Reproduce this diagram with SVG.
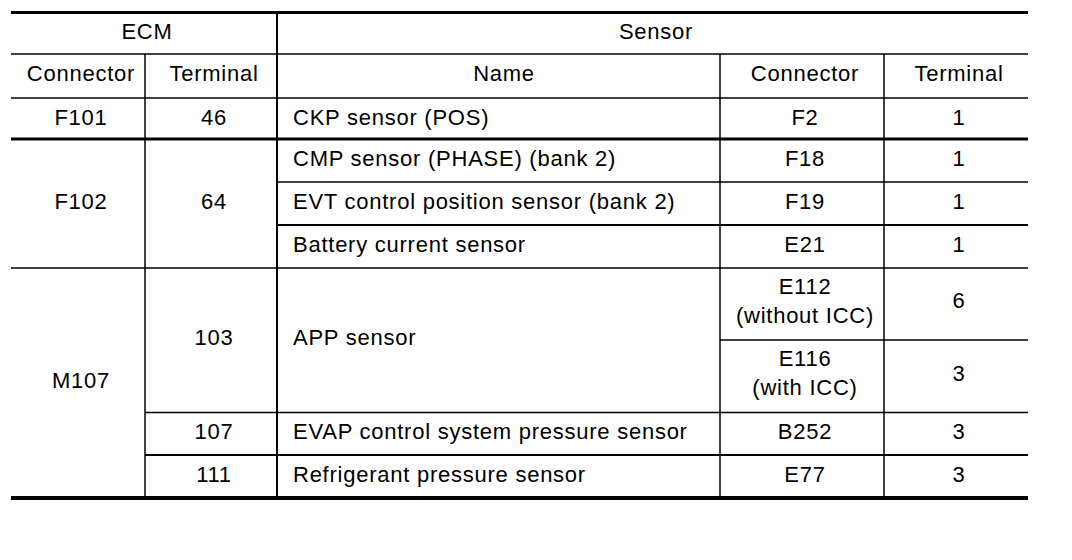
<svg xmlns="http://www.w3.org/2000/svg" width="1072" height="560" viewBox="0 0 1072 560">
<style>
text{font-family:"Liberation Sans",Arial,sans-serif;font-size:22px;fill:#000;letter-spacing:0.75px}
.c{text-anchor:middle}
line{stroke:#000}
.t1{stroke-width:1.5}
.t2{stroke-width:2}
.t3{stroke-width:3}
.t4{stroke-width:4}
</style>
<rect width="1072" height="560" fill="#fff"/>
<g id="grid">
<line class="t3" x1="11" y1="12.5" x2="1028" y2="12.5"/>
<line class="t1" x1="11" y1="54" x2="1028" y2="54"/>
<line class="t1" x1="11" y1="98" x2="1028" y2="98"/>
<line class="t3" x1="11" y1="139" x2="1028" y2="139"/>
<line class="t1" x1="277" y1="182" x2="1028" y2="182"/>
<line class="t2" x1="277" y1="225" x2="1028" y2="225"/>
<line class="t1" x1="11" y1="268" x2="1028" y2="268"/>
<line class="t1" x1="720" y1="340" x2="1028" y2="340"/>
<line class="t1" x1="145" y1="412.5" x2="1028" y2="412.5"/>
<line class="t2" x1="145" y1="455" x2="1028" y2="455"/>
<line class="t4" x1="11" y1="498" x2="1028" y2="498"/>
<line class="t1" x1="145" y1="54" x2="145" y2="498"/>
<line class="t2" x1="277" y1="12" x2="277" y2="498"/>
<line class="t1" x1="720" y1="54" x2="720" y2="498"/>
<line class="t1" x1="884" y1="54" x2="884" y2="498"/>
</g>
<g id="header">
<text class="c" x="147" y="39">ECM</text>
<text class="c" x="656" y="39">Sensor</text>
<text class="c" x="81" y="81">Connector</text>
<text class="c" x="214" y="81">Terminal</text>
<text class="c" x="504" y="81">Name</text>
<text class="c" x="805" y="81">Connector</text>
<text class="c" x="959" y="81">Terminal</text>
</g>
<g id="row-f101">
<text class="c" x="81" y="125">F101</text>
<text class="c" x="214" y="125">46</text>
<text x="293" y="125">CKP sensor (POS)</text>
<text class="c" x="805" y="125">F2</text>
<text class="c" x="959" y="125">1</text>
</g>
<g id="row-f102">
<text class="c" x="81" y="209">F102</text>
<text class="c" x="214" y="209">64</text>
<text x="293" y="166">CMP sensor (PHASE) (bank 2)</text>
<text class="c" x="805" y="166">F18</text>
<text class="c" x="959" y="166">1</text>
<text x="293" y="209">EVT control position sensor (bank 2)</text>
<text class="c" x="805" y="209">F19</text>
<text class="c" x="959" y="209">1</text>
<text x="293" y="252">Battery current sensor</text>
<text class="c" x="805" y="252">E21</text>
<text class="c" x="959" y="252">1</text>
</g>
<g id="row-m107">
<text class="c" x="81" y="388">M107</text>
<text class="c" x="214" y="345">103</text>
<text x="293" y="345">APP sensor</text>
<text class="c" x="805" y="294">E112</text>
<text class="c" x="805" y="323">(without ICC)</text>
<text class="c" x="959" y="308">6</text>
<text class="c" x="805" y="366">E116</text>
<text class="c" x="805" y="395">(with ICC)</text>
<text class="c" x="959" y="381">3</text>
<text class="c" x="214" y="439">107</text>
<text x="293" y="439">EVAP control system pressure sensor</text>
<text class="c" x="805" y="439">B252</text>
<text class="c" x="959" y="439">3</text>
<text class="c" x="214" y="482">111</text>
<text x="293" y="482">Refrigerant pressure sensor</text>
<text class="c" x="805" y="482">E77</text>
<text class="c" x="959" y="482">3</text>
</g>
</svg>
